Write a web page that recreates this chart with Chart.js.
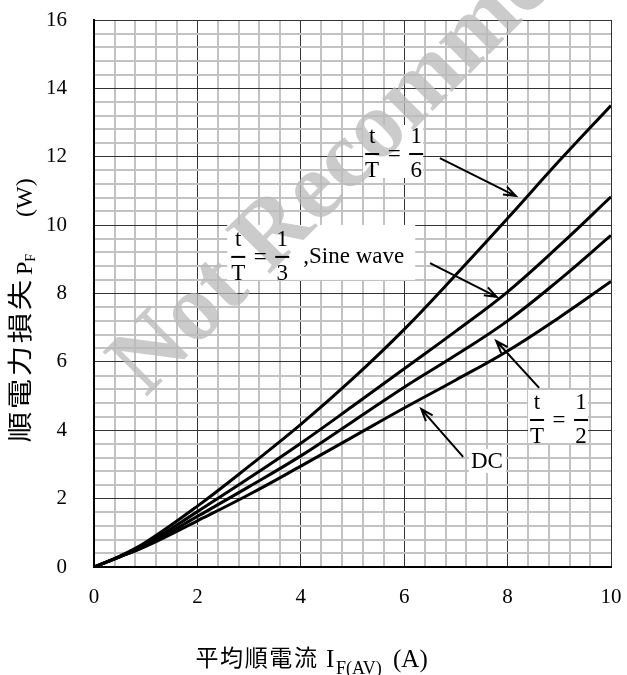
<!DOCTYPE html>
<html>
<head>
<meta charset="utf-8">
<script src="https://cdn.jsdelivr.net/npm/chart.js@4.4.0/dist/chart.umd.min.js"></script>
<style>
  html, body { margin: 0; padding: 0; background: #fff; }
</style>
</head>
<body>
<canvas id="chart-area" width="627" height="675"></canvas>
<script>
// average forward current I_F(AV) (A)
var current = [0, 0.5, 1, 2, 3, 4, 5, 6, 7, 8, 9, 10];
// forward power loss P_F (W) for each conduction case
var duty16 = [0, 0.32, 0.72, 1.78, 2.95, 4.17, 5.5, 6.95, 8.55, 10.2, 11.88, 13.5];
var duty13 = [0, 0.3, 0.66, 1.62, 2.6, 3.62, 4.7, 5.8, 6.9, 8.05, 9.4, 10.83];
var duty12 = [0, 0.3, 0.62, 1.48, 2.35, 3.25, 4.25, 5.26, 6.2, 7.2, 8.4, 9.7];
var dcLoss = [0, 0.3, 0.6, 1.35, 2.12, 2.95, 3.8, 4.65, 5.47, 6.32, 7.3, 8.35];

var xTicks = [0, 2, 4, 6, 8, 10];
var yTicks = [0, 2, 4, 6, 8, 10, 12, 14, 16];

function pts(ys) {
  return current.map(function(x, i) { return { x: x, y: ys[i] }; });
}
function isMajor(v) {
  return Math.abs(v / 2 - Math.round(v / 2)) < 1e-6;
}
function gridColor(c) { return isMajor(c.tick.value) ? '#333' : '#c2c2c2'; }
function gridWidth(c) { return isMajor(c.tick.value) ? 1 : 2; }
function noPad(s) {
  s.paddingTop = 0; s.paddingBottom = 0; s.paddingLeft = 0; s.paddingRight = 0;
}

var serif = '"Liberation Serif", "Times New Roman", serif';
var cjk = '"Noto Sans CJK JP", "Noto Sans CJK TC", sans-serif';

// label anchors in data units
var notes = [
  { x: 5.38, y: 12.08, den: '6', tail: '', box: [-9, -29, 60, 53] },
  { x: 2.79, y: 9.07, den: '3', tail: ',Sine wave', box: [-11, -32, 188, 55] },
  { x: 8.57, y: 4.30, den: '2', tail: '', box: [-9, -30, 60, 53] }
];
var dcNote = { x: 7.29, y: 2.90 };
var arrows = [
  [6.69, 11.96, 8.16, 10.85],
  [6.50, 8.89, 7.79, 7.90],
  [8.61, 5.24, 7.78, 6.61],
  [7.14, 3.22, 6.33, 4.62]
];

function frac(ctx, cx, barY, top, bottom) {
  ctx.textAlign = 'center';
  ctx.textBaseline = 'alphabetic';
  ctx.fillText(top, cx, barY - 11);
  ctx.fillText(bottom, cx, barY + 23);
  ctx.fillRect(cx - 7, barY - 1, 14, 2);
}

function arrow(ctx, x1, y1, x2, y2) {
  var a = Math.atan2(y2 - y1, x2 - x1), h = 13;
  ctx.beginPath();
  ctx.moveTo(x1, y1);
  ctx.lineTo(x2, y2);
  ctx.moveTo(x2 - h * Math.cos(a - 0.35), y2 - h * Math.sin(a - 0.35));
  ctx.lineTo(x2, y2);
  ctx.lineTo(x2 - h * Math.cos(a + 0.35), y2 - h * Math.sin(a + 0.35));
  ctx.stroke();
}

var overlay = {
  id: 'overlay',
  afterDatasetsDraw: function(chart) {
    var ctx = chart.ctx, sx = chart.scales.x, sy = chart.scales.y;
    var dx = sx.getPixelForValue(dcNote.x), dy = sy.getPixelForValue(dcNote.y);

    // white label boxes
    ctx.save();
    ctx.fillStyle = '#fff';
    notes.forEach(function(n) {
      var cx = sx.getPixelForValue(n.x), by = sy.getPixelForValue(n.y);
      ctx.fillRect(cx + n.box[0], by + n.box[1], n.box[2], n.box[3]);
    });
    ctx.fillRect(dx - 2, dy - 19, 37, 24);
    ctx.restore();

    // watermark
    ctx.save();
    ctx.translate(sx.getPixelForValue(1.0), sy.getPixelForValue(4.95));
    ctx.rotate(-45 * Math.PI / 180);
    ctx.font = 'bold 96px ' + serif;
    ctx.fillStyle = 'rgba(185,185,185,0.75)';
    ctx.textAlign = 'left';
    ctx.textBaseline = 'alphabetic';
    ctx.fillText('Not Recommended', 0, 0);
    ctx.restore();

    // arrows and label text
    ctx.save();
    ctx.fillStyle = '#000';
    ctx.strokeStyle = '#000';
    ctx.lineWidth = 2;
    arrows.forEach(function(a) {
      arrow(ctx, sx.getPixelForValue(a[0]), sy.getPixelForValue(a[1]),
        sx.getPixelForValue(a[2]), sy.getPixelForValue(a[3]));
    });
    ctx.font = '23px ' + serif;
    notes.forEach(function(n) {
      var cx = sx.getPixelForValue(n.x), by = sy.getPixelForValue(n.y);
      frac(ctx, cx, by, 't', 'T');
      ctx.textAlign = 'center';
      ctx.fillText('=', cx + 22, by + 7);
      frac(ctx, cx + 44, by, '1', n.den);
      if (n.tail) {
        ctx.textAlign = 'left';
        ctx.fillText(n.tail, cx + 65, by + 6);
      }
    });
    ctx.textAlign = 'left';
    ctx.fillText('DC', dx, dy);
    ctx.restore();
  },
  afterDraw: function(chart) {
    var ctx = chart.ctx;

    // y axis title
    ctx.save();
    ctx.fillStyle = '#000';
    ctx.translate(32, 443);
    ctx.rotate(-Math.PI / 2);
    ctx.textBaseline = 'alphabetic';
    ctx.textAlign = 'center';
    ctx.font = '25px ' + cjk;
    var chars = '順電力損失';
    for (var i = 0; i < chars.length; i++) {
      ctx.save();
      ctx.translate(16 + i * 33, -3);
      ctx.scale(1.22, 1);
      ctx.fillText(chars[i], 0, 0);
      ctx.restore();
    }
    ctx.textAlign = 'left';
    ctx.font = '24px ' + serif;
    ctx.fillText('P', 168, 0);
    var p = 168 + ctx.measureText('P').width;
    ctx.font = '14px ' + serif;
    ctx.fillText('F', p, 3);
    ctx.font = '24px ' + serif;
    ctx.fillText('(W)', 226, 0);
    ctx.restore();

    // x axis title
    ctx.save();
    ctx.fillStyle = '#000';
    ctx.textBaseline = 'alphabetic';
    ctx.textAlign = 'center';
    ctx.font = '23px ' + cjk;
    var xc = '平均順電流';
    for (var j = 0; j < xc.length; j++) {
      ctx.fillText(xc[j], 207 + j * 24.6, 666);
    }
    ctx.textAlign = 'left';
    ctx.font = '25px ' + serif;
    ctx.fillText('I', 326, 667);
    ctx.font = '18px ' + serif;
    ctx.fillText('F(AV)', 336, 674);
    ctx.font = '25px ' + serif;
    ctx.fillText('(A)', 393, 667);
    ctx.restore();
  }
};

var ctx = document.getElementById('chart-area').getContext('2d');
var line = { borderColor: '#000', borderWidth: 3, pointRadius: 0, fill: false, tension: 0.4 };
var config = {
  type: 'line',
  data: {
    datasets: [
      Object.assign({ label: 't/T=1/6', data: pts(duty16) }, line),
      Object.assign({ label: 't/T=1/3, Sine wave', data: pts(duty13) }, line),
      Object.assign({ label: 't/T=1/2', data: pts(duty12) }, line),
      Object.assign({ label: 'DC', data: pts(dcLoss) }, line)
    ]
  },
  options: {
    responsive: false,
    animation: false,
    layout: { padding: { left: 0, top: 20, right: 16, bottom: 0 } },
    plugins: { legend: { display: false }, tooltip: { enabled: false } },
    scales: {
      x: {
        type: 'linear',
        min: 0,
        max: 10,
        afterFit: function(s) { s.height = 108; noPad(s); },
        grid: { color: gridColor, lineWidth: gridWidth, drawTicks: false },
        border: { color: '#000', width: 2 },
        ticks: {
          stepSize: 0.4,
          autoSkip: false,
          maxRotation: 0,
          padding: 18,
          color: '#000',
          font: { family: serif, size: 21 },
          callback: function(v) { return xTicks.indexOf(Math.round(v * 100) / 100) >= 0 ? String(Math.round(v)) : ''; }
        }
      },
      y: {
        min: 0,
        max: 16,
        afterFit: function(s) { s.width = 94; noPad(s); },
        grid: { color: gridColor, lineWidth: gridWidth, drawTicks: false },
        border: { color: '#000', width: 2 },
        ticks: {
          stepSize: 0.4,
          autoSkip: false,
          padding: 27,
          color: '#000',
          font: { family: serif, size: 21 },
          callback: function(v) { return yTicks.indexOf(Math.round(v * 100) / 100) >= 0 ? String(Math.round(v)) : ''; }
        }
      }
    }
  },
  plugins: [overlay]
};
window.powerChart = new Chart(ctx, config);
</script>
</body>
</html>
